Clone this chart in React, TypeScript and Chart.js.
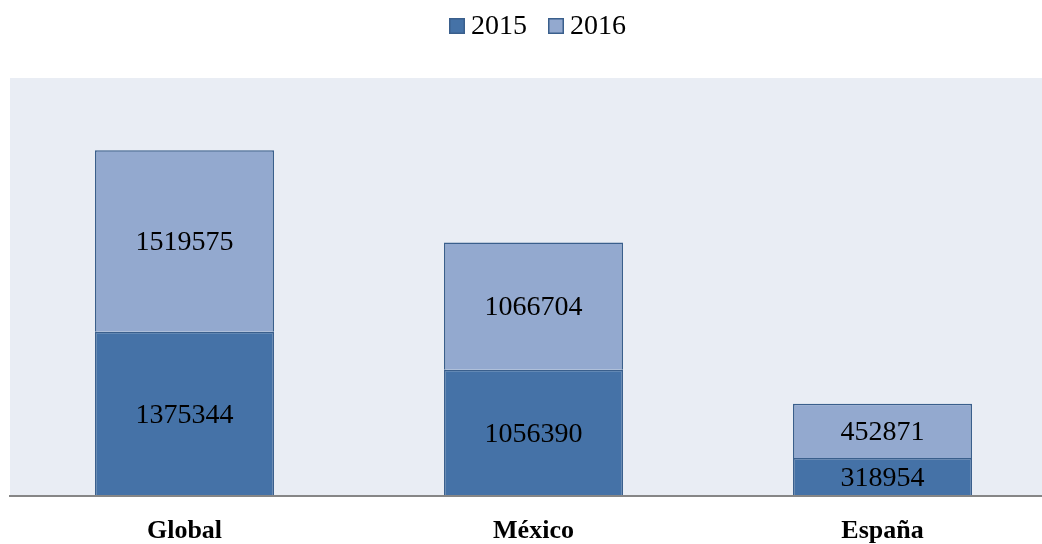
import React, { useEffect, useRef } from "react";
import { Chart, registerables } from "chart.js";

Chart.register(...registerables);

const categories = ["Global", "México", "España"];
const seriesNames = ["2015", "2016"];
const values2015 = [1375344, 1056390, 318954];
const values2016 = [1519575, 1066704, 452871];
const yMax = 3500000;

const FONT = '"Liberation Serif", "Times New Roman", serif';
const W = 1057;
const H = 544;

export default function App() {
  const ref = useRef<HTMLCanvasElement>(null);

  useEffect(() => {
    document.body.style.margin = "0";
    document.body.style.overflow = "hidden";
    const canvas = ref.current;
    if (!canvas) return;

    const bgPlugin = {
      id: "plotBg",
      beforeDraw(chart: any) {
        const { ctx, chartArea: a } = chart;
        ctx.save();
        ctx.fillStyle = "#E9EDF4";
        ctx.fillRect(a.left, a.top, a.right - a.left, a.bottom - a.top);
        ctx.restore();
      },
    };

    const labelPlugin = {
      id: "segLabels",
      afterDatasetsDraw(chart: any) {
        const ctx = chart.ctx;
        ctx.save();
        ctx.font = `28px ${FONT}`;
        ctx.fillStyle = "#000";
        ctx.textAlign = "center";
        ctx.textBaseline = "middle";
        chart.data.datasets.forEach((ds: any, di: number) => {
          const meta = chart.getDatasetMeta(di);
          meta.data.forEach((el: any, i: number) => {
            const { x, y, base } = el.getProps(["x", "y", "base"], true);
            ctx.fillText(String(ds.data[i]), x, (y + base) / 2 + 2);
          });
        });
        ctx.restore();
      },
    };

    const legendPlugin = {
      id: "customLegend",
      afterDraw(chart: any) {
        const ctx = chart.ctx;
        ctx.save();
        ctx.font = `28px ${FONT}`;
        const box = 16;
        const gapText = 6;
        const gapItem = 21;
        const items = chart.data.datasets.map((ds: any) => ({
          label: ds.label,
          fill: ds.backgroundColor,
          stroke: ds.borderColor,
          w: ctx.measureText(ds.label).width,
        }));
        const total =
          items.reduce((s: number, it: any) => s + box + gapText + it.w, 0) +
          gapItem * (items.length - 1);
        let x = 537.5 - total / 2;
        const cy = 26;
        items.forEach((it: any) => {
          ctx.fillStyle = it.fill;
          ctx.fillRect(x, cy - 8, box, box);
          ctx.strokeStyle = it.stroke;
          ctx.lineWidth = 1.5;
          ctx.strokeRect(x + 0.75, cy - 8 + 0.75, box - 1.5, box - 1.5);
          ctx.fillStyle = "#000";
          ctx.textBaseline = "middle";
          ctx.textAlign = "left";
          ctx.fillText(it.label, x + box + gapText, cy + 1);
          x += box + gapText + it.w + gapItem;
        });
        ctx.restore();
      },
    };

    const chart = new Chart(canvas, {
      type: "bar",
      data: {
        labels: categories,
        datasets: [
          {
            label: seriesNames[0],
            data: values2015,
            backgroundColor: "#4572A7",
            borderColor: "#3A5F8C",
            borderWidth: 1.5,
            categoryPercentage: 1,
            barPercentage: 0.513,
          },
          {
            label: seriesNames[1],
            data: values2016,
            backgroundColor: "#93A9CF",
            borderColor: "#3A5F8C",
            borderWidth: 1.5,
            categoryPercentage: 1,
            barPercentage: 0.513,
          },
        ],
      },
      options: {
        animation: false,
        responsive: false,
        devicePixelRatio: 1,
        layout: { padding: { top: 78, left: 10, right: 0, bottom: 0 } },
        plugins: {
          legend: { display: false },
          tooltip: { enabled: false },
        },
        scales: {
          x: {
            stacked: true,
            grid: { display: false, drawTicks: false },
            border: { display: true, color: "#868686", width: 2, z: 1 },
            ticks: {
              color: "#000",
              padding: 20,
              font: { family: FONT, size: 26, weight: "bold" },
            },
            afterFit(scale: any) {
              scale.height = 48;
            },
          },
          y: {
            stacked: true,
            display: false,
            min: 0,
            max: yMax,
          },
        },
      },
      plugins: [bgPlugin, labelPlugin, legendPlugin],
    } as any);

    return () => chart.destroy();
  }, []);

  return (
    <div style={{ position: "absolute", left: 0, top: 0, width: W, height: H }}>
      <canvas ref={ref} width={W} height={H} style={{ width: W, height: H, display: "block" }} />
    </div>
  );
}
